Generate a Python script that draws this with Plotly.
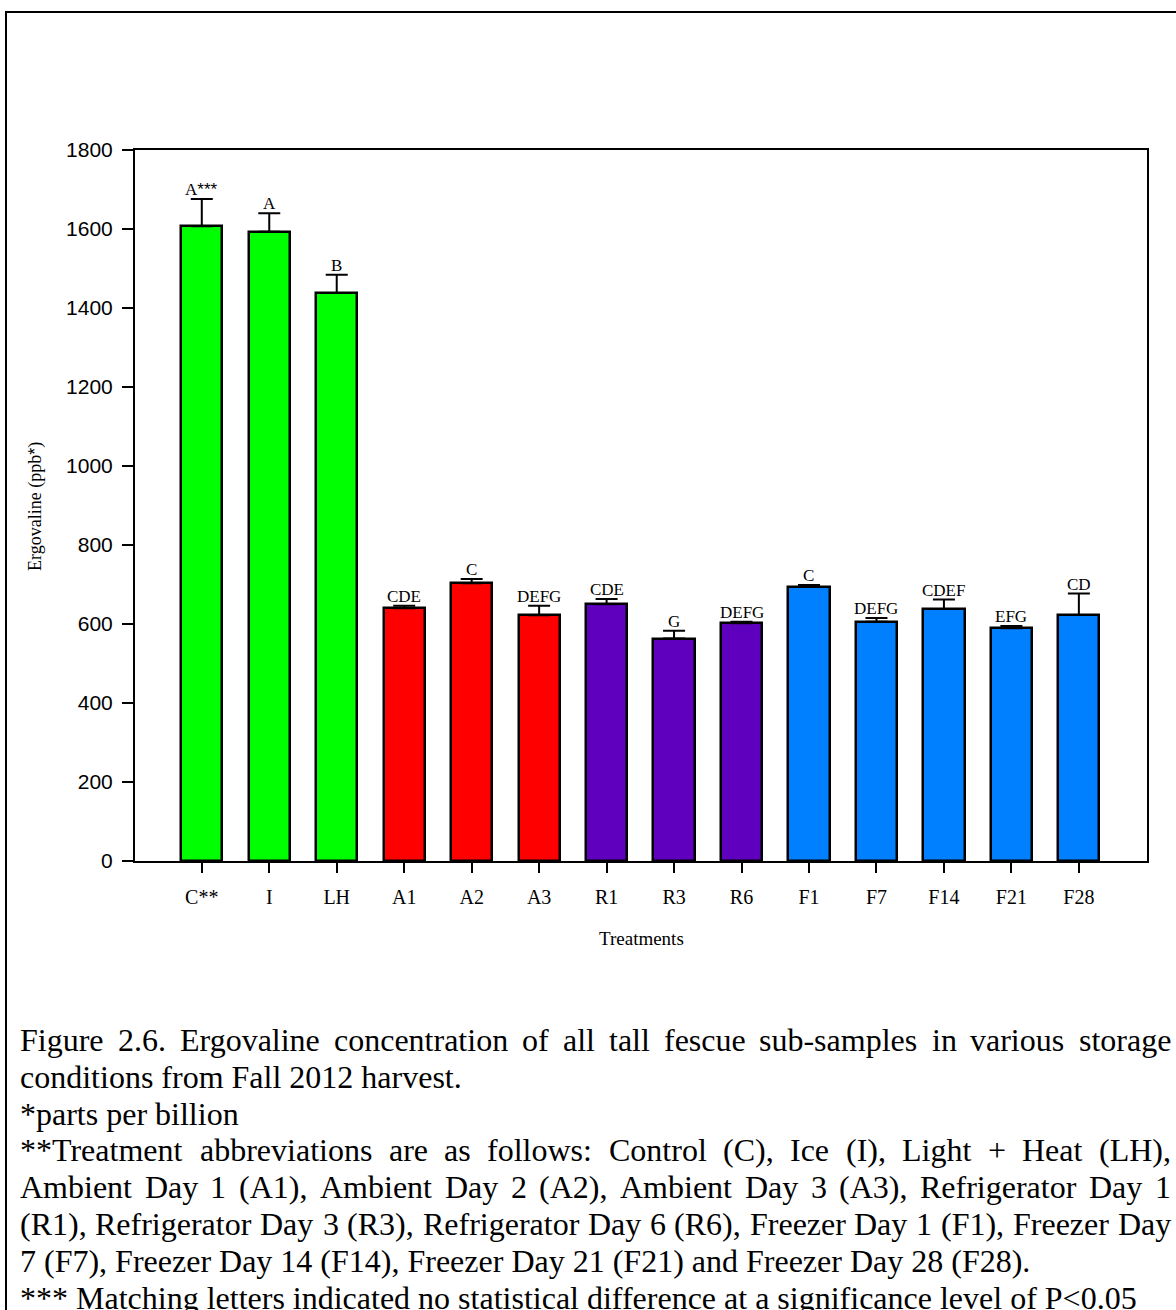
import plotly.graph_objects as go

# ---------------- data ----------------
categories = ["C**", "I", "LH", "A1", "A2", "A3", "R1", "R3", "R6",
              "F1", "F7", "F14", "F21", "F28"]
means = [1607, 1593, 1438, 640, 703, 622, 650, 563, 602, 694, 606, 638, 589, 623]
errors = [69, 47, 46, 6, 11, 24, 13, 20, 4, 5, 9, 24, 6, 54]
letters = ["A<span style='font-family:Liberation Sans, Arial'>***</span>", "A", "B",
           "CDE", "C", "DEFG", "CDE", "G", "DEFG", "C", "DEFG", "CDEF", "EFG", "CD"]
groups = ["G", "G", "G", "R", "R", "R", "P", "P", "P", "B", "B", "B", "B", "B"]
group_colors = {"G": "#00FF00", "R": "#FF0000", "P": "#5F00BF", "B": "#0080FF"}

caption_lines = [
    ("Figure 2.6. Ergovaline concentration of all tall fescue sub-samples in various storage", True),
    ("conditions from Fall 2012 harvest.", False),
    ("*parts per billion", False),
    ("**Treatment abbreviations are as follows: Control (C), Ice (I), Light + Heat (LH),", True),
    ("Ambient Day 1 (A1), Ambient Day 2 (A2), Ambient Day 3 (A3), Refrigerator Day 1", True),
    ("(R1), Refrigerator Day 3 (R3), Refrigerator Day 6 (R6), Freezer Day 1 (F1), Freezer Day", True),
    ("7 (F7), Freezer Day 14 (F14), Freezer Day 21 (F21) and Freezer Day 28 (F28).", False),
    ("*** Matching letters indicated no statistical difference at a significance level of P<0.05", False),
]

# ---------------- layout geometry ----------------
W, H = 1176, 1310
ML, MR, MT, MB = 135, 29, 150, 449
PW, PH = W - ML - MR, H - MT - MB

SERIF = "Liberation Serif, Times New Roman, serif"
SANS = "Liberation Sans, Arial, sans-serif"


def px_x(px):
    return (px - ML) / PW


def px_y(py):
    return (H - MB - py) / PH


# Times New Roman advance widths (per 1000 em)
TNR = {}
TNR.update(dict(zip("abcdefghijklmnopqrstuvwxyz",
                    [444, 500, 444, 500, 444, 333, 500, 500, 278, 278, 500, 278, 778,
                     500, 500, 500, 500, 333, 389, 278, 500, 500, 722, 500, 500, 444])))
TNR.update(dict(zip("ABCDEFGHIJKLMNOPQRSTUVWXYZ",
                    [722, 667, 667, 722, 611, 556, 722, 722, 333, 389, 722, 611, 889,
                     722, 722, 556, 722, 667, 556, 611, 722, 722, 944, 722, 722, 611])))
TNR.update({d: 500 for d in "0123456789"})
TNR.update({" ": 250, ".": 250, ",": 250, "(": 333, ")": 333, ":": 278, "-": 333,
            "+": 564, "*": 500, "<": 564})


def text_w(s, fs):
    return sum(TNR.get(c, 500) for c in s) * fs / 1000.0


# ---------------- figure ----------------
fig = go.Figure()
xs = list(range(len(categories)))
fig.add_trace(go.Bar(
    x=xs, y=means, width=0.61,
    marker=dict(color=[group_colors[g] for g in groups],
                line=dict(color="black", width=2.5)),
    error_y=dict(type="data", symmetric=False, array=errors,
                 arrayminus=[0] * len(errors), color="black",
                 thickness=2, width=11),
    showlegend=False, hoverinfo="skip",
))

annotations = []
for i, (m, e, lab) in enumerate(zip(means, errors, letters)):
    annotations.append(dict(x=i, y=m + e, xref="x", yref="y", text=lab,
                            showarrow=False, yanchor="bottom", xanchor="center",
                            yshift=-2, font=dict(family=SERIF, size=17, color="black")))

# axis titles
annotations.append(dict(x=px_x(35), y=px_y(507), xref="paper", yref="paper",
                        text="Ergovaline (ppb<span style='font-family:Liberation Sans, Arial'>*</span>)",
                        textangle=-90, showarrow=False, xanchor="center", yanchor="middle",
                        font=dict(family=SERIF, size=18, color="black")))
annotations.append(dict(x=px_x(641), y=px_y(938), xref="paper", yref="paper",
                        text="Treatments", showarrow=False, xanchor="center", yanchor="middle",
                        font=dict(family=SERIF, size=19, color="black")))

# caption (justified where the original is)
FS = 32
LEFT, RIGHT = 20, 1171
Y0, LH = 1040, 36.8
for k, (line, justify) in enumerate(caption_lines):
    yc = px_y(Y0 + k * LH)
    if not justify:
        annotations.append(dict(x=px_x(LEFT - 2), y=yc, xref="paper", yref="paper",
                                text=line, showarrow=False, xanchor="left", yanchor="middle",
                                font=dict(family=SERIF, size=FS, color="black")))
        continue
    words = line.split(" ")
    widths = [text_w(w, FS) for w in words]
    gap = (RIGHT - LEFT - sum(widths)) / (len(words) - 1)
    x = LEFT
    for j, (wd, ww) in enumerate(zip(words, widths)):
        if j == len(words) - 1:
            annotations.append(dict(x=px_x(RIGHT + 2), y=yc, xref="paper", yref="paper",
                                    text=wd, showarrow=False, xanchor="right", yanchor="middle",
                                    font=dict(family=SERIF, size=FS, color="black")))
        else:
            annotations.append(dict(x=px_x(x - 2), y=yc, xref="paper", yref="paper",
                                    text=wd, showarrow=False, xanchor="left", yanchor="middle",
                                    font=dict(family=SERIF, size=FS, color="black")))
        x += ww + gap

fig.update_layout(
    width=W, height=H, autosize=False,
    margin=dict(l=ML, r=MR, t=MT, b=MB, pad=0),
    paper_bgcolor="white", plot_bgcolor="white",
    bargap=0,
    annotations=annotations,
    shapes=[dict(type="rect", xref="paper", yref="paper",
                 x0=px_x(6), x1=px_x(1190), y0=px_y(12), y1=px_y(1330),
                 line=dict(color="black", width=2), fillcolor="rgba(0,0,0,0)",
                 layer="below")],
    xaxis=dict(range=[-0.99, 14.01], tickvals=xs, ticktext=categories,
               ticks="outside", ticklen=10, tickwidth=2, tickcolor="black",
               ticklabelstandoff=7,
               showline=True, linewidth=2, linecolor="black", mirror=True,
               showgrid=False, zeroline=False,
               tickfont=dict(family=SERIF, size=20, color="black")),
    yaxis=dict(range=[0, 1800], tickmode="linear", tick0=0, dtick=200,
               ticks="outside", ticklen=11, tickwidth=2, tickcolor="black",
               ticklabelstandoff=5,
               showline=True, linewidth=2, linecolor="black", mirror=True,
               showgrid=False, zeroline=False,
               tickfont=dict(family=SANS, size=21, color="black")),
)

fig.write_html("out.html")
